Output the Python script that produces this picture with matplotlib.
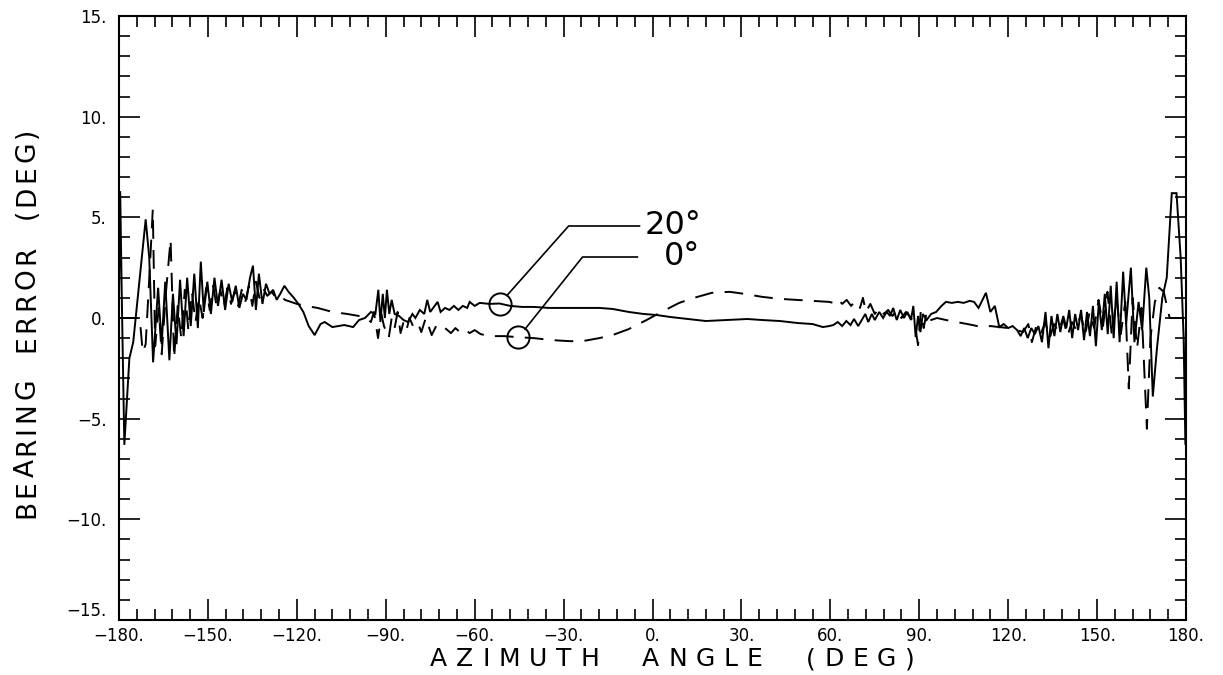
import matplotlib
matplotlib.use("Agg")
import matplotlib.pyplot as plt
from matplotlib.ticker import MultipleLocator, FuncFormatter

# ---- bearing error vs azimuth, 20 deg elevation (solid) ----
az_20 = [
    -180.0, -179.6, -179.0, -178.2, -176.5, -175.2, -171.0, -169.8, -168.5, -166.8,
    -165.6, -164.4, -163.0, -161.8, -160.6, -159.4, -158.2, -157.0, -155.8, -154.6,
    -153.4, -152.4, -151.4, -150.2, -149.0, -147.8, -146.6, -145.4, -144.2, -143.0,
    -141.8, -140.6, -139.4, -138.2, -137.0, -135.8, -134.8, -133.8, -132.8, -131.6,
    -130.4, -129.2, -128.0, -126.8, -125.6, -124.2, -122.8, -121.0, -119.5, -117.8,
    -116.0, -114.0, -112.0, -110.6, -108.0, -104.0, -101.0, -99.0, -97.0, -95.0,
    -93.5, -92.5, -91.8, -91.0, -90.3, -89.6, -88.8, -88.0, -87.0, -85.5,
    -84.0, -82.5, -81.0, -80.0, -78.5, -77.0, -76.0, -75.0, -73.5, -72.5,
    -71.5, -70.0, -68.5, -67.0, -65.5, -64.0, -62.5, -61.7, -60.0, -58.3,
    -55.0, -51.6, -48.0, -44.0, -40.0, -35.0, -29.0, -24.0, -18.0, -13.5,
    -8.0, -3.0, 1.3, 6.0, 12.0, 18.0, 25.0, 32.0, 37.0, 43.0,
    49.0, 54.0, 57.5, 59.6, 61.0, 62.5, 64.0, 65.4, 66.8, 68.0,
    69.4, 70.6, 71.8, 72.8, 74.0, 75.0, 76.5, 77.8, 79.0, 80.2,
    81.2, 82.4, 83.6, 84.8, 86.0, 87.2, 88.0, 88.8, 89.6, 90.4,
    91.2, 92.5, 94.0, 95.7, 97.5, 99.0, 101.0, 103.0, 105.0, 107.0,
    108.5, 110.0, 112.5, 114.0, 115.5, 117.0, 118.5, 120.0, 121.5, 123.0,
    124.2, 125.4, 126.6, 127.8, 129.0, 130.2, 131.4, 132.6, 133.6, 134.6,
    135.6, 136.6, 137.6, 138.6, 139.6, 140.6, 141.6, 142.6, 143.6, 144.6,
    145.6, 146.6, 147.6, 148.6, 149.6, 150.6, 151.6, 152.6, 153.6, 154.6,
    155.6, 156.6, 157.6, 158.8, 159.8, 161.4, 162.6, 164.0, 165.2, 166.6,
    167.6, 168.8, 170.2, 172.0, 173.5, 175.2, 176.8, 178.2, 179.2, 179.8,
    180.0,
]
err_20 = [
    1.0, 6.3, 0.5, -6.3, -2.0, -1.2, 4.9, 3.0, -2.2, 1.5,
    -1.3, 1.8, -2.1, 1.2, -1.3, 1.9, -0.9, 2.0, -0.4, 2.2,
    -0.5, 2.8, 0.3, 1.8, 0.2, 2.0, 0.6, 1.9, 0.4, 1.7,
    0.8, 1.6, 0.5, 1.2, 0.9, 2.0, 2.6, 0.4, 2.2, 0.7,
    1.7, 1.2, 1.4, 0.9, 1.2, 1.6, 1.3, 1.0, 0.7, 0.3,
    -0.4, -0.85, -0.3, -0.2, -0.45, -0.35, -0.45, -0.1, 0.0, 0.3,
    0.2, 1.4, -0.2, 1.2, 0.0, 1.4, 0.2, 0.9, 0.2, 0.1,
    -0.1, -0.2, 0.2, 0.0, 0.4, 0.2, 0.9, 0.3, 0.6, 0.8,
    0.3, 0.5, 0.4, 0.6, 0.4, 0.6, 0.5, 0.8, 0.6, 0.75,
    0.7, 0.72, 0.6, 0.55, 0.55, 0.5, 0.5, 0.5, 0.5, 0.45,
    0.3, 0.2, 0.15, 0.05, -0.05, -0.15, -0.1, -0.05, -0.1, -0.15,
    -0.25, -0.3, -0.45, -0.4, -0.35, -0.2, -0.4, -0.15, -0.35, -0.05,
    -0.4, -0.1, 0.2, -0.2, 0.2, -0.1, 0.3, 0.0, 0.3, 0.1,
    0.5, -0.1, 0.4, 0.0, 0.3, -0.1, 0.6, -0.95, 0.1, -0.7,
    0.2, -0.1, 0.2, 0.3, 0.6, 0.8, 0.75, 0.8, 0.75, 0.85,
    0.8, 0.5, 1.25, 0.3, 0.6, -0.45, -0.3, -0.5, -0.4, -0.6,
    -0.9, -0.5, -1.0, -0.5, -0.8, -0.4, -1.2, 0.3, -1.5, 0.1,
    -0.9, 0.2, -0.7, 0.1, -0.5, 0.4, -1.0, 0.2, -0.6, 0.4,
    -1.1, 0.3, -0.9, 0.6, -1.4, 0.8, -0.6, 1.2, -0.8, 1.6,
    -1.0, 1.8, -1.2, 2.3, -0.3, 2.5, -1.2, 0.8, -0.6, 2.5,
    1.0, -3.9, -1.5, 1.0, 2.0, 6.2, 6.2, 3.0, -1.0, -6.3,
    0.0,
]

# ---- bearing error vs azimuth, 0 deg elevation (dashed) ----
az_0 = [
    -180.0, -173.0, -172.0, -171.0, -169.6, -168.6, -167.8, -166.6, -165.6, -164.2,
    -162.6, -161.4, -160.2, -159.0, -157.8, -156.6, -155.4, -154.2, -153.0, -151.8,
    -150.6, -149.4, -148.2, -147.0, -145.8, -144.6, -143.4, -142.2, -141.0, -139.8,
    -138.6, -137.4, -136.2, -135.0, -133.8, -132.6, -131.4, -130.0, -128.5, -127.0,
    -125.5, -124.0, -122.0, -120.0, -117.0, -113.0, -108.0, -103.0, -97.0, -95.0,
    -94.0, -92.6, -91.5, -90.6, -89.0, -88.0, -87.0, -86.0, -85.0, -84.0,
    -83.0, -82.0, -80.5, -79.0, -78.0, -76.5, -74.5, -73.0, -71.5, -70.0,
    -68.0, -66.5, -65.0, -63.5, -61.7, -60.0, -58.0, -55.0, -50.0, -45.5,
    -40.0, -33.7, -28.0, -23.6, -18.0, -13.5, -8.0, -2.0, 3.0, 9.0,
    14.0, 20.0, 26.0, 31.0, 37.0, 43.0, 48.5, 54.0, 59.6, 61.0,
    62.5, 64.0, 65.5, 67.0, 68.5, 70.0, 71.0, 72.0, 73.5, 75.0,
    76.5, 78.0, 79.5, 81.0, 82.5, 84.0, 85.5, 87.0, 88.5, 89.6,
    90.5, 91.5, 92.5, 94.0, 96.0, 99.0, 104.5, 108.0, 111.0, 114.0,
    117.0, 120.0, 123.0, 125.0, 126.8, 128.0, 129.5, 131.0, 132.5, 134.0,
    135.5, 137.0, 138.5, 140.0, 141.5, 143.0, 144.5, 146.0, 147.5, 149.0,
    150.5, 152.0, 153.5, 155.0, 156.5, 158.0, 159.5, 160.7, 162.0, 163.5,
    165.0, 166.8, 168.0, 169.5, 171.0, 172.5, 174.0, 174.5, 180.0,
]
err_0 = [
    0.0, 0.0, -1.7, -1.3, 2.5, 5.4, -1.4, 0.5, -1.8, 1.2,
    3.9, -2.0, 0.6, -1.0, 1.4, -0.6, 1.3, -0.2, 1.0, 0.0,
    1.5, 0.4, 1.6, 0.5, 1.4, 0.6, 1.5, 0.7, 1.3, 0.6,
    1.4, 0.8, 1.6, 0.6, 1.8, 1.0, 1.5, 1.1, 1.3, 1.0,
    1.1, 0.9, 0.8, 0.7, 0.6, 0.5, 0.3, 0.2, 0.05, -0.2,
    0.3, -1.0, 0.2, -0.4, -1.0, 0.0, -0.5, 0.3, -0.75, -0.2,
    -0.6, 0.0, -0.5, -0.3, -0.7, 0.0, -0.85, -0.4, -0.6, -0.5,
    -0.75, -0.5, -0.7, -0.55, -0.75, -0.6, -0.8, -0.9, -0.9, -0.95,
    -1.0, -1.1, -1.15, -1.15, -1.0, -0.85, -0.55, -0.1, 0.3, 0.75,
    1.0, 1.25, 1.3, 1.2, 1.05, 0.95, 0.9, 0.85, 0.8, 0.75,
    0.95, 0.7, 0.9, 0.6, 0.85, 0.5, 1.0, 0.3, 0.7, 0.2,
    0.5, 0.2, 0.4, 0.1, 0.4, 0.0, 0.3, 0.05, -0.3, -1.35,
    0.3, -0.5, 0.3, -0.1, 0.0, -0.1, -0.25, -0.35, -0.45, -0.4,
    -0.45, -0.5, -0.6, -0.7, -0.3, -1.2, -0.4, -0.8, -0.2, -1.0,
    -0.3, -0.7, 0.0, -0.9, -0.2, -0.6, 0.2, -0.8, 0.3, -0.5,
    0.9, -0.4, 1.3, -0.9, 1.0, -0.8, 0.8, -3.5, 1.0, -1.5,
    0.5, -5.5, -1.0, 0.8, 1.5, 1.3, 0.3, 0.0, 0.0,
]

# callout labels: circle on the curve, leader start, bend, end, text x
callout_labels = ["20\u00b0", "0\u00b0"]
callout_circle = [(-51.6, 0.72), (-45.5, -0.95)]
callout_start = [(-49.1, 1.12), (-43.0, -0.55)]
callout_bend = [(-28.3, 4.57), (-23.6, 3.03)]
callout_end = [(-4.4, 4.57), (-5.1, 3.03)]
callout_text_x = [-2.7, 4.0]

x_ticks = [-180, -150, -120, -90, -60, -30, 0, 30, 60, 90, 120, 150, 180]
y_ticks = [-15, -10, -5, 0, 5, 10, 15]

W, H = 1223, 675
fig = plt.figure(figsize=(W / 100, H / 100), dpi=100)
ax = fig.add_axes([119 / W, 1 - 620 / H, (1186 - 119) / W, (620 - 16) / H])

ax.plot(az_20, err_20, color="black", lw=1.4, solid_joinstyle="miter")
ax.plot(az_0, err_0, color="black", lw=1.4, linestyle=(0, (9.6, 5.8)))

for lab, c, s, b, e, tx in zip(callout_labels, callout_circle, callout_start,
                               callout_bend, callout_end, callout_text_x):
    ax.plot([c[0]], [c[1]], marker="o", ms=16, mfc="none", mec="black", mew=1.4)
    ax.plot([s[0], b[0], e[0]], [s[1], b[1], e[1]], color="black", lw=1.2)
    ax.text(tx, e[1], lab, fontsize=23, ha="left", va="center")

ax.set_xlim(-180, 180)
ax.set_ylim(-15, 15)
ax.set_xticks(x_ticks)
ax.set_yticks(y_ticks)
ax.xaxis.set_minor_locator(MultipleLocator(6))
ax.yaxis.set_minor_locator(MultipleLocator(1))


def dotted(v, pos):
    return f"{v:.0f}.".replace("-", "\u2212")


ax.xaxis.set_major_formatter(FuncFormatter(dotted))
ax.yaxis.set_major_formatter(FuncFormatter(dotted))
ax.tick_params(which="both", direction="in", top=True, right=True, width=1.2,
               labelsize=12)
ax.tick_params(which="major", length=15)
ax.tick_params(which="minor", length=8)
ax.tick_params(axis="x", pad=5)
ax.tick_params(axis="y", pad=9)
for sp in ax.spines.values():
    sp.set_linewidth(1.5)

# the bottom y label sits a little above the corner so it clears "-180."
ax.get_yticklabels()[0].set_verticalalignment("bottom")


def tracked_text(s, start, end, across, size, vertical=False):
    """Spread the characters of s evenly along a span given in pixels.

    Horizontal text runs left to right from start to end; vertical text
    runs bottom to top, from pixel row start up to pixel row end.
    """
    renderer = fig.canvas.get_renderer()
    widths = []
    for ch in s:
        t = fig.text(0, 0, ch, fontsize=size)
        widths.append(t.get_window_extent(renderer).width)
        t.remove()
    span = abs(end - start)
    gap = (span - sum(widths)) / (len(s) - 1)
    pos = start
    for ch, w in zip(s, widths):
        if vertical:
            fig.text(across / W, 1 - pos / H, ch, fontsize=size, rotation=90,
                     rotation_mode="anchor", ha="left", va="center")
            pos -= w + gap
        else:
            fig.text(pos / W, 1 - across / H, ch, fontsize=size,
                     ha="left", va="center")
            pos += w + gap


tracked_text("AZIMUTH  ANGLE  (DEG)", 430, 915, 659, 18)
tracked_text("BEARING  ERROR  (DEG)", 518, 128, 27, 19, vertical=True)

fig.savefig("out.png", dpi=100)
